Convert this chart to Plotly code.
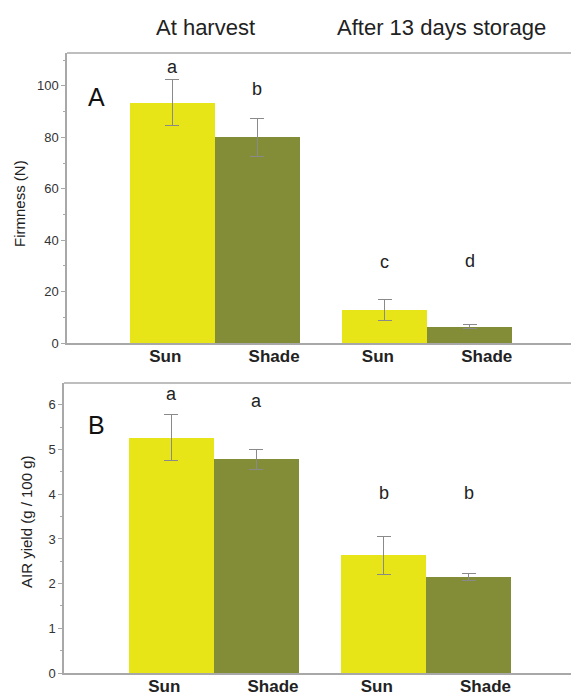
import plotly.graph_objects as go

# ---- data ----
groups = ["At harvest", "After 13 days storage"]
treatments = ["Sun", "Shade"]
firmness = [93.5, 80.0, 12.8, 6.3]
firmness_err = [9.0, 7.5, 4.2, 0.8]
firmness_letters = ["a", "b", "c", "d"]
air_yield = [5.27, 4.78, 2.63, 2.14]
air_yield_err = [0.51, 0.22, 0.43, 0.08]
air_letters = ["a", "a", "b", "b"]
firmness_ticks = [0, 20, 40, 60, 80, 100]
air_ticks = [0, 1, 2, 3, 4, 5, 6]

# label heights (data units) for significance letters
firmness_letter_y = [107.5, 98.8, 31.6, 32.0]
air_letter_y = [6.25, 6.08, 4.03, 4.03]

YELLOW = "#e7e517"
OLIVE = "#838c36"
FONT = "Liberation Sans, Arial, sans-serif"
AXC = "#a8a8a8"

xs = []
cols = []
labels = []
label_pos = []
for g in range(len(groups)):
    for t, name in enumerate(treatments):
        xs.append(1 + g * 2.5 + t)
        cols.append(YELLOW if t == 0 else OLIVE)
        labels.append(name)
        # category labels sit slightly off-centre in the original figure
        label_pos.append(xs[-1] + (-0.08 if t == 0 else 0.2))

fig = go.Figure()

fig.add_trace(go.Bar(x=xs, y=firmness, width=1.0, marker=dict(color=cols, line=dict(width=0)),
                     error_y=dict(type="data", array=firmness_err, color="#8a8a8a", thickness=1, width=7),
                     xaxis="x", yaxis="y", showlegend=False))
fig.add_trace(go.Bar(x=xs, y=air_yield, width=1.0, marker=dict(color=cols, line=dict(width=0)),
                     error_y=dict(type="data", array=air_yield_err, color="#8a8a8a", thickness=1, width=7),
                     xaxis="x2", yaxis="y2", showlegend=False))

H = 694.0
W = 571.0

common_x = dict(tickmode="array", tickvals=label_pos, ticktext=labels, showline=True, linecolor=AXC,
                linewidth=1.5, ticks="", showgrid=False, zeroline=False, automargin=False,
                ticklabelstandoff=-3,
                tickfont=dict(family=FONT, size=17, color="#222222", weight="bold"))
common_y = dict(showline=True, linecolor=AXC, linewidth=1.5, ticks="outside", ticklen=4,
                tickcolor=AXC, showgrid=False, zeroline=False, automargin=False,
                tickfont=dict(family=FONT, size=13, color="#333333"))

fig.update_layout(
    width=571, height=694, margin=dict(l=0, r=0, t=0, b=0, autoexpand=False),
    paper_bgcolor="white", plot_bgcolor="white", bargap=0,
    xaxis=dict(domain=[67 / W, 1.0], range=[-0.235, 5.69], anchor="y", **common_x),
    yaxis=dict(domain=[(H - 343) / H, (H - 53) / H], range=[0, 112.8], anchor="x",
               tickvals=firmness_ticks, minor=dict(dtick=10, ticks="outside", ticklen=2, tickcolor=AXC),
               **common_y),
    xaxis2=dict(domain=[64 / W, 1.0], range=[-0.259, 5.706], anchor="y2", **common_x),
    yaxis2=dict(domain=[(H - 673) / H, (H - 383) / H], range=[0, 6.49], anchor="x2",
                tickvals=air_ticks, minor=dict(dtick=0.5, ticks="outside", ticklen=2, tickcolor=AXC),
                **common_y),
)

# top frame lines
fig.add_shape(type="line", xref="x domain", yref="y domain", x0=0, x1=1, y0=1, y1=1,
              line=dict(color=AXC, width=1.5))
fig.add_shape(type="line", xref="x2 domain", yref="y2 domain", x0=0, x1=1, y0=1, y1=1,
              line=dict(color=AXC, width=1.5))

ann = []


def pann(text, px, py, size, angle=0, color="#222222"):
    return dict(text=text, x=px / W, y=(H - py) / H, xref="paper", yref="paper",
                xanchor="center", yanchor="middle", textangle=angle, showarrow=False,
                font=dict(family=FONT, size=size, color=color))


# group titles
ann.append(pann(groups[0], 205, 27, 22))
ann.append(pann(groups[1], 441, 27, 22))
# panel letters
ann.append(pann("A", 96, 97, 25, color="#111111"))
ann.append(pann("B", 96, 425, 25, color="#111111"))
# y titles
ann.append(pann("Firmness (N)", 19, 204, 15, angle=-90))
ann.append(pann("AIR yield (g / 100 g)", 26, 522, 15, angle=-90))
# significance letters
for x, ly, lt in zip(xs, firmness_letter_y, firmness_letters):
    ann.append(dict(text=lt, x=x, y=ly, xref="x", yref="y", showarrow=False,
                    xanchor="center", yanchor="middle",
                    font=dict(family=FONT, size=18, color="#222222")))
for x, ly, lt in zip(xs, air_letter_y, air_letters):
    ann.append(dict(text=lt, x=x, y=ly, xref="x2", yref="y2", showarrow=False,
                    xanchor="center", yanchor="middle",
                    font=dict(family=FONT, size=18, color="#222222")))
fig.update_layout(annotations=ann)

fig.write_html("out.html")
